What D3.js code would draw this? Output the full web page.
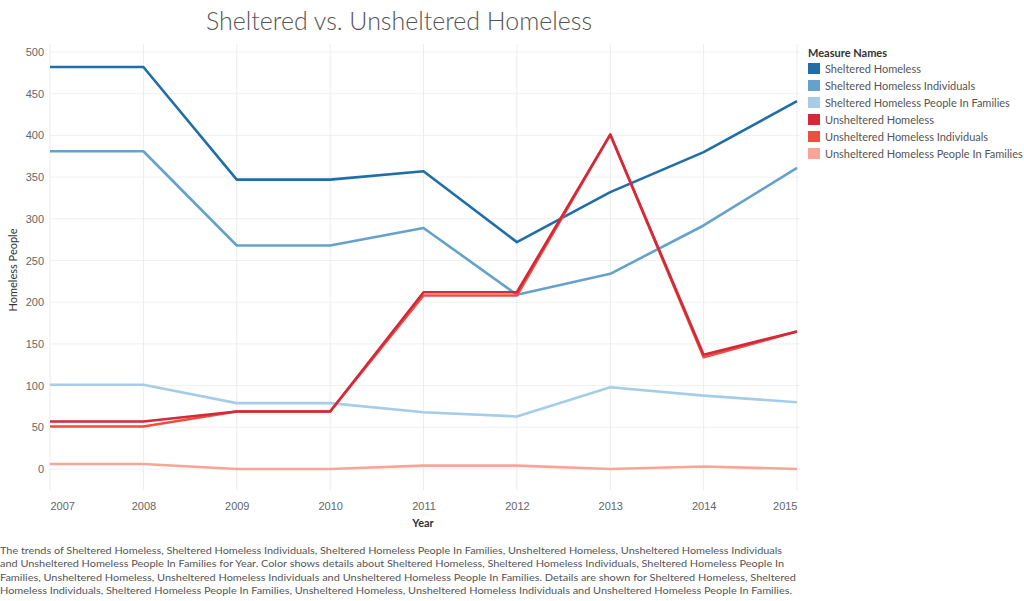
<!DOCTYPE html>
<html><head><meta charset="utf-8">
<script src="https://cdn.jsdelivr.net/npm/d3@7"></script>
<style>body{margin:0;background:#fff;} svg{display:block;font-family:Lato,"Open Sans",sans-serif;}</style>
</head><body><svg id="c" width="1024" height="601"></svg>
<script>
const years = [2007,2008,2009,2010,2011,2012,2013,2014,2015];
const seriesNames = ["Sheltered Homeless","Sheltered Homeless Individuals","Sheltered Homeless People In Families","Unsheltered Homeless","Unsheltered Homeless Individuals","Unsheltered Homeless People In Families"];
const shelteredHomeless = [482,482,347,347,357,272,332,380,441];
const shelteredIndividuals = [381,381,268,268,289,209,234,292,361];
const shelteredFamilies = [101,101,79,79,68,63,98,88,80];
const unshelteredHomeless = [57,57,69,69,212,212,401,137,165];
const unshelteredIndividuals = [51,51,69,69,208,208,401,134,165];
const unshelteredFamilies = [6,6,0,0,4,4,0,3,0];
const yTicks = [0,50,100,150,200,250,300,350,400,450,500];
const colors = ["#1f6ea8","#64a2cc","#a6cde8","#d22a3a","#ee4d40","#f8a597"];
const captionLines = [
 "The trends of Sheltered Homeless, Sheltered Homeless Individuals, Sheltered Homeless People In Families, Unsheltered Homeless, Unsheltered Homeless Individuals",
 "and Unsheltered Homeless People In Families for Year.  Color shows details about Sheltered Homeless, Sheltered Homeless Individuals, Sheltered Homeless People In",
 "Families, Unsheltered Homeless, Unsheltered Homeless Individuals and Unsheltered Homeless People In Families.  Details are shown for Sheltered Homeless, Sheltered",
 "Homeless Individuals, Sheltered Homeless People In Families, Unsheltered Homeless, Unsheltered Homeless Individuals and Unsheltered Homeless People In Families."
];
const allValues = [shelteredHomeless,shelteredIndividuals,shelteredFamilies,unshelteredHomeless,unshelteredIndividuals,unshelteredFamilies];

const svg = d3.select("#c");
const x = d3.scaleLinear().domain([2007,2015]).range([50,797]);
const y = d3.scaleLinear().domain([0,500]).range([469,52]);
const plotTop = 44, plotBottom = 490, plotLeft = 50, plotRight = 800;

const g = svg.append("g");
g.selectAll(".hg").data(yTicks).enter().append("line")
 .attr("x1",plotLeft).attr("x2",plotRight).attr("y1",d=>y(d)).attr("y2",d=>y(d))
 .attr("stroke","#f0f0f0").attr("stroke-width",1);
g.selectAll(".vg").data(years).enter().append("line")
 .attr("x1",d=>x(d)).attr("x2",d=>x(d)).attr("y1",plotTop).attr("y2",plotBottom)
 .attr("stroke","#ececec").attr("stroke-width",1);

const yAxis = d3.axisLeft(y).tickValues(yTicks).tickSize(0).tickPadding(6);
const ya = svg.append("g").attr("transform",`translate(${plotLeft},0)`).call(yAxis);
ya.select(".domain").remove();
ya.selectAll("text").attr("fill","#666").style("font-size","11px").attr("x",-6);

const xAxis = d3.axisBottom(x).tickValues(years).tickFormat(d3.format("d")).tickSize(0).tickPadding(12);
const xa = svg.append("g").attr("transform",`translate(0,${plotBottom})`).call(xAxis);
xa.select(".domain").remove();
xa.selectAll("text").attr("fill","#666").style("font-size","11px")
 .attr("text-anchor",(d,i)=> i===0?"start":(i===years.length-1?"end":"middle"));

const line = d3.line().x((d,i)=>x(years[i])).y(d=>y(d));
const order = [5,2,1,0,4,3];
order.forEach(k=>{
  svg.append("path").datum(allValues[k]).attr("d",line)
   .attr("fill","none").attr("stroke",colors[k]).attr("stroke-width",2.6)
   .attr("stroke-linejoin","round");
});

svg.append("text").attr("x",399).attr("y",30).attr("text-anchor","middle")
 .style("font-size","25px").attr("fill","#555").style("font-weight",300)
 .attr("textLength",386).attr("lengthAdjust","spacingAndGlyphs")
 .text("Sheltered vs. Unsheltered Homeless");

svg.append("text").attr("transform","translate(17,270) rotate(-90)").attr("text-anchor","middle")
 .style("font-size","11px").attr("fill","#333").text("Homeless People");
svg.append("text").attr("x",423).attr("y",527).attr("text-anchor","middle")
 .style("font-size","11px").style("font-weight","bold").attr("fill","#333").text("Year");

const lg = svg.append("g");
lg.append("text").attr("x",808).attr("y",57).style("font-size","11px").style("font-weight","bold")
 .attr("fill","#333").text("Measure Names");
seriesNames.forEach((n,i)=>{
  lg.append("rect").attr("x",808).attr("y",63+i*17).attr("width",12).attr("height",11).attr("fill",colors[i]);
  lg.append("text").attr("x",825).attr("y",72.5+i*17).style("font-size","11px").attr("fill","#555").text(n);
});

captionLines.forEach((t,i)=>{
  svg.append("text").attr("x",0).attr("y",554+i*13.4).style("font-size","10.2px").attr("fill","#555")
   .attr("textLength", i===0?782:(i===1?784:(i===2?796:792))).attr("lengthAdjust","spacingAndGlyphs").text(t);
});
</script></body></html>
